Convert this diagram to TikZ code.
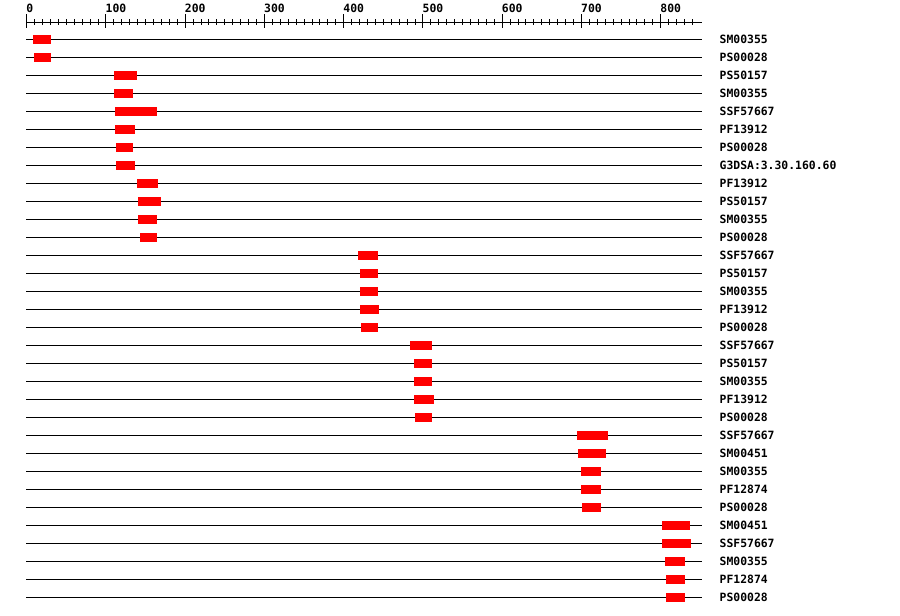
\documentclass[tikz,border=0pt]{standalone}
\usepackage{fontspec}
\newfontfamily\pixfont{DejaVu Sans Mono}[BoldFont={DejaVu Sans Mono Bold}]
\begin{document}
\begin{tikzpicture}[x=1pt,y=-1pt,
  rowline/.style={line width=1pt,black},
  tickline/.style={line width=1pt,black},
  hit/.style={fill=red,draw=none},
  lbl/.style={anchor=base west,inner sep=0pt,font=\pixfont\bfseries\fontsize{11.4}{12}\selectfont},
  rlbl/.style={anchor=base west,inner sep=0pt,font=\pixfont\bfseries\fontsize{11.4}{12}\selectfont}]
\useasboundingbox[fill=white] (0,0) rectangle (900,616);
% ruler
\draw[tickline] (26,22) -- (701.7,22);
\foreach \u in {0,10,...,840} {
  \draw[tickline] ({26.7+0.7925*\u},19) -- ({26.7+0.7925*\u},25);
}
\foreach \u in {0,100,...,800} {
  \draw[tickline] ({26.7+0.7925*\u},14) -- ({26.7+0.7925*\u},28);
  \node[rlbl] (r\u) at ({26.2+0.7925*\u},12.3) {\u};
}
% rows
\foreach \a/\b/\t [count=\i] in {
  33/51/SM00355, 34/51/PS00028, 114/137/PS50157, 114/133/SM00355,
  115/157/SSF57667, 115/135/PF13912, 116/133/PS00028, 116/135/{G3DSA:3.30.160.60},
  137/158/PF13912, 138/161/PS50157, 138/157/SM00355, 140/157/PS00028,
  358/378/SSF57667, 360/378/PS50157, 360/378/SM00355, 360/379/PF13912,
  361/378/PS00028, 410/432/SSF57667, 414/432/PS50157, 414/432/SM00355,
  414/434/PF13912, 415/432/PS00028, 577/608/SSF57667, 578/606/SM00451,
  581/601/SM00355, 581/601/PF12874, 582/601/PS00028, 662/690/SM00451,
  662/691/SSF57667, 665/685/SM00355, 666/685/PF12874, 666/685/PS00028} {
  \pgfmathsetmacro{\yy}{39.3+(\i-1)*18}
  \draw[rowline] (26,\yy) -- (701.7,\yy);
  \fill[hit] (\a,\yy-4.6) rectangle (\b,\yy+4.6);
  \node[lbl] (l\i) at (719.5,\yy+3.9) {\t};
}
\end{tikzpicture}
\end{document}
